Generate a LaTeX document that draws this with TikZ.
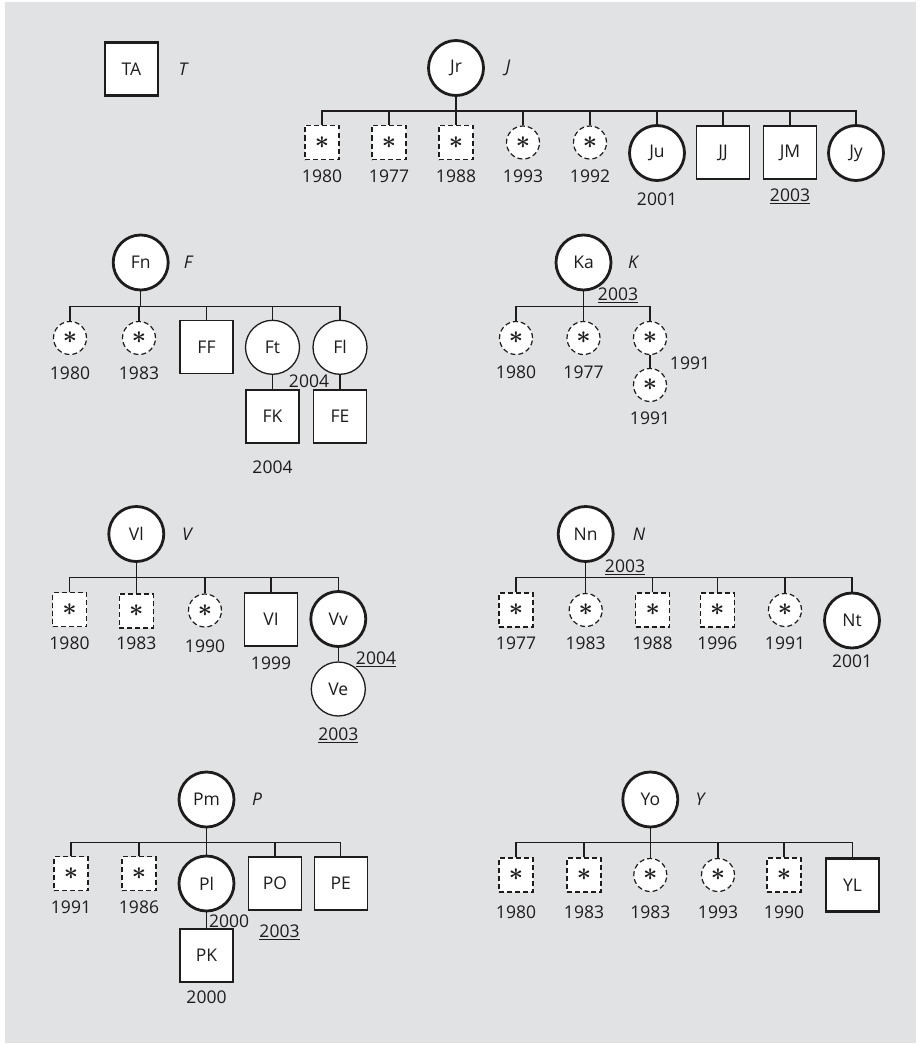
\documentclass[tikz,border=0pt]{standalone}
\usepackage{bm}
\usepackage{fontspec}
\setmainfont{Open Sans}
\definecolor{bg}{RGB}{225,226,228}
\definecolor{ink}{RGB}{30,28,29}
\newcommand\labf{\fontsize{17.5}{20}\selectfont}
\newcommand\astf{{\fontsize{27}{27}\selectfont$\bm{\ast}$}}
\begin{document}
\begin{tikzpicture}[x=1pt,y=-1pt,
  base/.style={draw=ink, fill=white, inner sep=0pt, text=ink, font=\labf},
  bigc/.style={base, circle, minimum size=55, line width=2.8},
  thinc/.style={base, circle, minimum size=54, line width=1.3},
  bigs/.style={base, rectangle, minimum size=53, line width=1.3},
  thicks/.style={base, rectangle, minimum size=53, line width=2.8},
  smalls/.style={base, rectangle, minimum size=34, line width=1.2, dash pattern=on 5pt off 3pt},
  smallc/.style={base, circle, minimum size=33, line width=1.2, dash pattern=on 5pt off 3pt},
  conn/.style={draw=ink, line width=1.3},
  dt/.style={text=ink, font=\labf, inner sep=0pt},
  fam/.style={text=ink, font=\labf\itshape, inner sep=0pt}]
\useasboundingbox (0,0) rectangle (919,1046);
\fill[bg] (5,2) rectangle (916,1043);

% ---------- T ----------
\node[thicks] (TA) at (131.5,69) {TA};
\node[fam] (Tl) at (183,69) {T};

% ---------- J ----------
\node[bigc] (Jr) at (456,68) {Jr};
\node[fam] (Jl) at (508,68) {J};
\coordinate (Jb) at (456,111);
\node[smalls] (j1) at (322,142.5) {\astf};
\node[smalls] (j2) at (389,142.5) {\astf};
\node[smalls] (j3) at (456,142.5) {\astf};
\node[smallc] (j4) at (523,142.5) {\astf};
\node[smallc] (j5) at (590,142.5) {\astf};
\node[bigc] (j6) at (657,153) {Ju};
\node[bigs] (j7) at (723,152.5) {JJ};
\node[bigs] (j8) at (790,152.5) {JM};
\node[bigc] (j9) at (856,153) {Jy};
\draw[conn] (Jr.south) -- (Jb);
\draw[conn] (j1.north) -- (j1.north |- Jb) -- (j9.north |- Jb) -- (j9.north);
\foreach \c in {j2,j3,j4,j5,j6,j7,j8} \draw[conn] (\c.north) -- (\c.north |- Jb);
\node[dt] (jd1) at (322,176) {1980};
\node[dt] (jd2) at (389,176) {1977};
\node[dt] (jd3) at (456,176) {1988};
\node[dt] (jd4) at (523,176) {1993};
\node[dt] (jd5) at (590,176) {1992};
\node[dt] (jd6) at (657,199) {2001};
\node[dt] (jd8) at (790,196) {\underline{2003}};

% ---------- F ----------
\node[bigc] (Fn) at (140.7,262.5) {Fn};
\node[fam] (Fl0) at (188,262) {F};
\coordinate (Fb) at (140.7,306.7);
\node[smallc] (f1) at (70,338) {\astf};
\node[smallc] (f2) at (139,338) {\astf};
\node[bigs] (f3) at (206.5,347.3) {FF};
\node[thinc] (f4) at (272.5,347.3) {Ft};
\node[thinc] (f5) at (340,347.3) {Fl};
\draw[conn] (Fn.south) -- (Fb);
\draw[conn] (f1.north) -- (f1.north |- Fb) -- (f5.north |- Fb) -- (f5.north);
\foreach \c in {f2,f3,f4} \draw[conn] (\c.north) -- (\c.north |- Fb);
\node[dt] (fd1) at (70,373) {1980};
\node[dt] (fd2) at (139,373) {1983};
\node[bigs] (FK) at (272.5,416.5) {FK};
\node[bigs] (FE) at (340,416.5) {FE};
\draw[conn] (f4.south) -- (FK.north);
\draw[conn] (f5.south) -- (FE.north);
\node[dt] (fd3) at (309,381) {2004};
\node[dt] (fd4) at (272.5,467) {2004};

% ---------- K ----------
\node[bigc] (Ka) at (583.5,262.5) {Ka};
\node[fam] (Kl) at (633,262) {K};
\node[dt] (kd0) at (618,295) {\underline{2003}};
\coordinate (Kb) at (583.5,306.7);
\node[smallc] (k1) at (516,338) {\astf};
\node[smallc] (k2) at (583.5,338) {\astf};
\node[smallc] (k3) at (650,338) {\astf};
\node[smallc] (k4) at (650,385) {\astf};
\draw[conn] (Ka.south) -- (Kb);
\draw[conn] (k1.north) -- (k1.north |- Kb) -- (k3.north |- Kb) -- (k3.north);
\draw[conn] (k2.north) -- (k2.north |- Kb);
\draw[conn] (k3.south) -- (k4.north);
\node[dt] (kd1) at (516,372) {1980};
\node[dt] (kd2) at (583.5,372) {1977};
\node[dt] (kd3) at (690,363) {1991};
\node[dt] (kd4) at (650,418) {1991};

% ---------- V ----------
\node[bigc] (Vl) at (136.3,534) {Vl};
\node[fam] (Vlab) at (187,534) {V};
\coordinate (Vb) at (136.3,577.7);
\node[smalls] (v1) at (69.5,609.5) {\astf};
\node[smalls] (v2) at (136.3,611) {\astf};
\node[smallc] (v3) at (205,610.5) {\astf};
\node[bigs] (v4) at (271,619.5) {VI};
\node[bigc] (v5) at (338.3,619) {Vv};
\draw[conn] (Vl.south) -- (Vb);
\draw[conn] (v1.north) -- (v1.north |- Vb) -- (v5.north |- Vb) -- (v5.north);
\foreach \c in {v2,v3,v4} \draw[conn] (\c.north) -- (\c.north |- Vb);
\node[dt] (vd1) at (69.5,643.5) {1980};
\node[dt] (vd2) at (136.3,643.5) {1983};
\node[dt] (vd3) at (205,646.5) {1990};
\node[dt] (vd4) at (271,663) {1999};
\node[thinc] (Ve) at (338.3,689) {Ve};
\draw[conn] (v5.south) -- (Ve.north);
\node[dt] (vd5) at (376,659) {\underline{2004}};
\node[dt] (vd6) at (338.3,735) {\underline{2003}};

% ---------- N ----------
\node[bigc] (Nn) at (585.7,534) {Nn};
\node[fam] (Nl) at (639,534) {N};
\node[dt] (nd0) at (625,567) {\underline{2003}};
\coordinate (Nb) at (585.7,577.7);
\node[smalls] (n1) at (516,610) {\astf};
\node[smallc] (n2) at (585.7,610) {\astf};
\node[smalls] (n3) at (652.7,610) {\astf};
\node[smalls] (n4) at (717.3,610) {\astf};
\node[smallc] (n5) at (785,610) {\astf};
\node[bigc] (n6) at (852,620.5) {Nt};
\draw[conn] (Nn.south) -- (Nb);
\draw[conn] (n1.north) -- (n1.north |- Nb) -- (n6.north |- Nb) -- (n6.north);
\foreach \c in {n2,n3,n4,n5} \draw[conn] (\c.north) -- (\c.north |- Nb);
\node[dt] (nd1) at (516,643) {1977};
\node[dt] (nd2) at (585.7,643) {1983};
\node[dt] (nd3) at (652.7,643) {1988};
\node[dt] (nd4) at (717.3,643) {1996};
\node[dt] (nd5) at (785,643) {1991};
\node[dt] (nd6) at (852,661) {2001};

% ---------- P ----------
\node[bigc] (Pm) at (206.5,799.5) {Pm};
\node[fam] (Pl0) at (257,799.5) {P};
\coordinate (Pb) at (206.5,842.7);
\node[smalls] (p1) at (71,873.5) {\astf};
\node[smalls] (p2) at (139,873.5) {\astf};
\node[bigc] (p3) at (206.5,883.5) {Pl};
\node[bigs] (p4) at (275,883.5) {PO};
\node[bigs] (p5) at (340.7,883.5) {PE};
\draw[conn] (Pm.south) -- (Pb);
\draw[conn] (p1.north) -- (p1.north |- Pb) -- (p5.north |- Pb) -- (p5.north);
\foreach \c in {p2,p3,p4} \draw[conn] (\c.north) -- (\c.north |- Pb);
\node[dt] (pd1) at (71,907) {1991};
\node[dt] (pd2) at (139,907) {1986};
\node[bigs] (PK) at (206.5,955.5) {PK};
\draw[conn] (p3.south) -- (PK.north);
\node[dt, anchor=west] (pd3) at (209,921) {2000};
\node[dt] (pd4) at (279.5,932) {\underline{2003}};
\node[dt] (pd5) at (206.5,997) {2000};

% ---------- Y ----------
\node[bigc] (Yo) at (650.3,799.5) {Yo};
\node[fam] (Yl) at (700,799.5) {Y};
\coordinate (Yb) at (650.3,842.7);
\node[smalls] (y1) at (516,875) {\astf};
\node[smalls] (y2) at (584,875) {\astf};
\node[smallc] (y3) at (650.3,875) {\astf};
\node[smallc] (y4) at (718,875) {\astf};
\node[smalls] (y5) at (784,875) {\astf};
\node[thicks] (y6) at (852.5,885.3) {YL};
\draw[conn] (Yo.south) -- (Yb);
\draw[conn] (y1.north) -- (y1.north |- Yb) -- (y6.north |- Yb) -- (y6.north);
\foreach \c in {y2,y3,y4,y5} \draw[conn] (\c.north) -- (\c.north |- Yb);
\node[dt] (yd1) at (516,912) {1980};
\node[dt] (yd2) at (584,912) {1983};
\node[dt] (yd3) at (650.3,912) {1983};
\node[dt] (yd4) at (718,912) {1993};
\node[dt] (yd5) at (784,912) {1990};
\end{tikzpicture}
\end{document}
